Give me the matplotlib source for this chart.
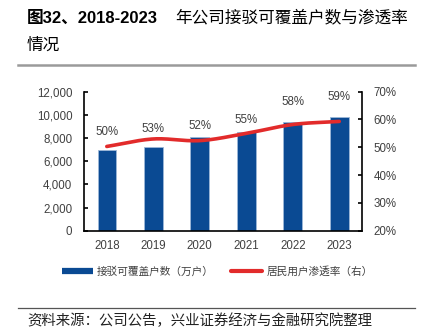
import numpy as np
import matplotlib
matplotlib.use('Agg')
import matplotlib.pyplot as plt
from matplotlib.lines import Line2D

plt.rcParams['font.family'] = ['Liberation Sans', 'Noto Sans CJK SC', 'DejaVu Sans']

years = ['2018', '2019', '2020', '2021', '2022', '2023']
households = [6950, 7250, 8100, 8480, 9400, 9800]      # 接驳可覆盖户数（万户）
penetration = [50.3, 53.0, 52.4, 55.0, 58.2, 59.3]      # 居民用户渗透率 %
rate_labels = ['50%', '53%', '52%', '55%', '58%', '59%']
left_ticks = [0, 2000, 4000, 6000, 8000, 10000, 12000]
right_ticks = [20, 30, 40, 50, 60, 70]

BLUE = '#0A4A93'
RED = '#E22B2B'
GREY = '#404040'


def smooth(xs, ys, n=30):
    # catmull-rom curve through the points, for the smoothed line
    p = np.column_stack([xs, ys]).astype(float)
    p = np.vstack([2 * p[0] - p[1], p, 2 * p[-1] - p[-2]])
    out = []
    t = np.linspace(0, 1, n)[:, None]
    for i in range(1, len(p) - 2):
        p0, p1, p2, p3 = p[i - 1], p[i], p[i + 1], p[i + 2]
        seg = 0.5 * ((2 * p1) + (-p0 + p2) * t +
                     (2 * p0 - 5 * p1 + 4 * p2 - p3) * t ** 2 +
                     (-p0 + 3 * p1 - 3 * p2 + p3) * t ** 3)
        out.append(seg)
    out = np.vstack(out)
    return out[:, 0], out[:, 1]


fig = plt.figure(figsize=(4.22, 3.31), dpi=100)
ax = fig.add_axes([0.198, 0.303, 0.661, 0.42])
x = np.arange(len(years))

ax.bar(x, households, width=0.4, color=BLUE, edgecolor='#9DB8D8', linewidth=0.6, zorder=2)
ax.set_xlim(-0.5, 5.5)
ax.set_ylim(0, 12000)
ax.set_yticks(left_ticks)
ax.set_yticklabels(['{:,}'.format(v) for v in left_ticks])
ax.set_xticks(x)
ax.set_xticklabels(years)

ax2 = ax.twinx()
sx, sy = smooth(x, penetration)
ax2.plot(sx, sy, color=RED, lw=2.6, solid_capstyle='round', zorder=3)
ax2.set_ylim(20, 70)
ax2.set_yticks(right_ticks)
ax2.set_yticklabels(['%d%%' % v for v in right_ticks])

label_offsets = [6, 3, 6, 5, 12, 13]
for xi, yi, lab, off in zip(x, penetration, rate_labels, label_offsets):
    ax2.annotate(lab, (xi, yi), xytext=(0, off), textcoords='offset points',
                 ha='center', va='bottom', fontsize=8.3, color=GREY)

for a in (ax, ax2):
    a.spines['top'].set_visible(False)
    for s in ('left', 'right', 'bottom'):
        a.spines[s].set_linewidth(1.2)
        a.spines[s].set_color('black')
ax.spines['right'].set_visible(False)
ax2.spines['left'].set_visible(False)
ax2.spines['bottom'].set_visible(False)
ax.tick_params(axis='y', direction='in', length=3, width=1.2, labelsize=8.3,
               labelcolor=GREY, pad=8)
ax.tick_params(axis='x', length=0, labelsize=8.3, labelcolor=GREY, pad=7)
ax2.tick_params(axis='y', direction='in', length=3, width=1.2, labelsize=8.3,
                labelcolor=GREY, pad=8)

# title
fig.text(27 / 422, 1 - 18 / 331, '图32、2018-2023', fontsize=12,
         fontweight='bold', va='center', ha='left', color='black')
fig.text(175 / 422, 1 - 18 / 331, '年公司接驳可覆盖户数与渗透率',
         fontsize=12, va='center', ha='left', color='black',
         family=['Noto Sans CJK SC'])
fig.text(27 / 422, 1 - 45 / 331, '情况', fontsize=12, va='center', ha='left',
         color='black', family=['Noto Sans CJK SC'])
fig.add_artist(Line2D([18 / 422, 415 / 422], [1 - 65 / 331, 1 - 65 / 331],
                      color='#9A9A9A', lw=1.8, transform=fig.transFigure))

# legend
handles = [Line2D([0], [0], color=BLUE, lw=4.5, solid_capstyle='butt'),
           Line2D([0], [0], color=RED, lw=3, solid_capstyle='round')]
fig.legend(handles, ['接驳可覆盖户数（万户）', '居民用户渗透率（右）'],
           loc='center', bbox_to_anchor=(0.515, 1 - 271 / 331), ncol=2,
           frameon=False, handlelength=2.9, handletextpad=0.4,
           columnspacing=1.6, prop={'family': ['Noto Sans CJK SC'], 'size': 7.7},
           labelcolor=GREY)

# source
fig.add_artist(Line2D([18 / 422, 415 / 422], [1 - 308 / 331, 1 - 308 / 331],
                      color='#555555', lw=0.9, transform=fig.transFigure))
fig.text(27 / 422, 1 - 321 / 331, '资料来源：公司公告，兴业证券经济与金融研究院整理',
         fontsize=10.4, va='center', ha='left', color='#222222',
         family=['Noto Sans CJK SC'])

fig.savefig('out.png', dpi=100)
